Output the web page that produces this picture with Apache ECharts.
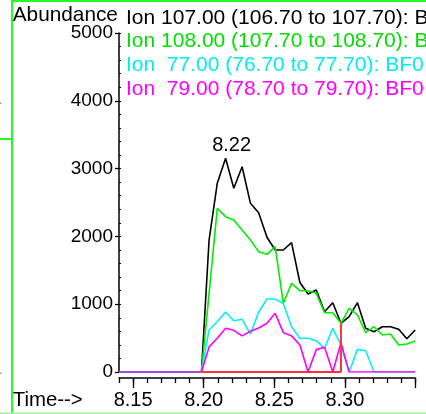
<!DOCTYPE html>
<html><head><meta charset="utf-8">
<script src="https://cdn.jsdelivr.net/npm/echarts@6/dist/echarts.min.js"></script>
<style>html,body{margin:0;padding:0;background:#fff;overflow:hidden}#c{width:426px;height:414px}</style>
</head><body><div id="c"></div>
<script>
// ---- data ----
const times = [8.1984, 8.2038, 8.2096, 8.2155, 8.2213, 8.2272, 8.2331, 8.2389, 8.2448, 8.2506, 8.2564, 8.2622, 8.2681, 8.2739, 8.2797, 8.2856, 8.2914, 8.2972, 8.3030, 8.3089, 8.3147, 8.3206, 8.3265, 8.3323, 8.3381, 8.3439, 8.3498];
const ion107 = [0,1947,2783,3152,2709,3028,2488,2350,1987,1799,1799,1907,1320,1150,1209,889,1022,718,816,1022,644,594,668,668,630,490,619];
const ion108 = [0,1160,2414,2291,2242,2094,1947,1775,1736,1848,1013,1308,1199,1199,1160,875,875,718,939,841,580,668,546,560,398,413,457];
const ion77  = [0,620,745,885,755,777,560,885,1077,1077,1008,668,497,497,462,350,644,398,0,334,314,0,0,0,0,0,0];
const ion79  = [0,370,497,644,615,533,600,650,718,866,580,533,398,0,330,364,0,432,0,0,0,0,0,0,0,0,0];
const redTimes  = [8.1984, 8.2038, 8.2096, 8.2155, 8.2213, 8.2272, 8.2331, 8.2389, 8.2448, 8.2506, 8.2564, 8.2622, 8.2681, 8.2739, 8.2797, 8.2856, 8.2914, 8.2972, 8.2972];
const redValues = [0,0,0,0,0,0,0,0,0,0,0,0,0,0,0,0,0,0,718];
const baseTimes  = [8.14, 8.1984];
const baseValues = [0, 0];
const xLabelValues = [8.15, 8.20, 8.25, 8.30];
const xMajorTicks  = [8.15, 8.20, 8.25, 8.30, 8.35];
const legendLabels = [
  'Ion 107.00 (106.70 to 107.70): BF0',
  'Ion 108.00 (107.70 to 108.70): BF0',
  'Ion  77.00 (76.70 to 77.70): BF0',
  'Ion  79.00 (78.70 to 79.70): BF0'
];
const legendColors = ['#000000', '#00dd00', '#00eeee', '#ff00ff'];
const peakLabel = '8.22';
const yTitle = 'Abundance';
const xTitle = 'Time-->';

// ---- chart ----
const FF = '"Liberation Sans", Arial, Helvetica, sans-serif';
const pairs = (ts, vs) => ts.map((t, i) => [t, vs[i]]);
let peakIdx = 0;
ion107.forEach((v, i) => { if (v > ion107[peakIdx]) peakIdx = i; });

function line(name, ts, vs, color, z, extra) {
  return Object.assign({
    type: 'line', name, data: pairs(ts, vs), showSymbol: false, symbol: 'none',
    lineStyle: { color, width: 1.6 }, itemStyle: { color }, z, silent: true,
    xAxisIndex: 0, yAxisIndex: 0
  }, extra || {});
}

const chart = echarts.init(document.getElementById('c'), null, { renderer: 'canvas' });
const graphics = [
  { type: 'rect', shape: { x: 11, y: 0, width: 2, height: 414 }, style: { fill: '#22ff22' } },
  { type: 'rect', shape: { x: 11, y: 0, width: 415, height: 2 }, style: { fill: '#22ff22' } },
  { type: 'rect', shape: { x: 0, y: 138, width: 12, height: 2 }, style: { fill: '#22ff22' } },
  { type: 'rect', shape: { x: 0, y: 412.5, width: 426, height: 1.5 }, style: { fill: '#a0f0a0' } },
  { type: 'rect', shape: { x: 0, y: 102.5, width: 1.5, height: 1.5 }, style: { fill: '#999' } },
  { type: 'rect', shape: { x: 0, y: 372.5, width: 1.5, height: 1.5 }, style: { fill: '#999' } },
  { type: 'text', x: 12.7, y: 15.3, style: { text: yTitle, font: '20.8px ' + FF, fill: '#000', align: 'left', verticalAlign: 'middle', textAlign: 'left', textVerticalAlign: 'middle' } },
  { type: 'text', x: 12.7, y: 400.5, style: { text: xTitle, font: '20.4px ' + FF, fill: '#000', align: 'left', verticalAlign: 'middle', textAlign: 'left', textVerticalAlign: 'middle' } }
];
legendLabels.forEach((t, i) => {
  graphics.push({ type: 'text', x: 126, y: 17.8 + i * 23.8, z: 10,
    style: { text: t, font: '21px ' + FF, fill: legendColors[i], align: 'left', verticalAlign: 'middle', textAlign: 'left', textVerticalAlign: 'middle' } });
});

const option = {
  animation: false,
  backgroundColor: '#ffffff',
  grid: { left: 119, top: 33, width: 296.5, height: 339, containLabel: false },
  xAxis: [
    { type: 'value', min: 8.14, max: 8.35, interval: 0.01, position: 'bottom', offset: 6,
      axisLine: { show: true, onZero: false, lineStyle: { color: '#000', width: 1.5 } },
      axisTick: { show: true, length: 5, lineStyle: { color: '#000', width: 1.3 } },
      axisLabel: { show: false }, splitLine: { show: false } },
    { type: 'value', min: 8.14, max: 8.35, position: 'bottom', offset: 6,
      axisLine: { show: false, onZero: false },
      axisTick: { show: true, length: 10, customValues: xMajorTicks, lineStyle: { color: '#000', width: 1.3 } },
      axisLabel: { show: true, customValues: xLabelValues, formatter: v => v.toFixed(2), fontSize: 20, fontFamily: FF, color: '#000', margin: 12 },
      splitLine: { show: false } }
  ],
  yAxis: [
    { type: 'value', min: 0, max: 5000, interval: 1000, position: 'left',
      axisLine: { show: true, onZero: false, lineStyle: { color: '#000', width: 1.5 } },
      axisTick: { show: true, length: 4, lineStyle: { color: '#000', width: 1.3 } },
      axisLabel: { fontSize: 19, fontFamily: FF, color: '#000', margin: 6, formatter: v => String(v) },
      splitLine: { show: false } },
    { type: 'value', min: 0, max: 5000, interval: 200, position: 'left',
      axisLine: { show: false, onZero: false },
      axisTick: { show: true, inside: true, length: 2, lineStyle: { color: '#000', width: 1 } },
      axisLabel: { show: false }, splitLine: { show: false } }
  ],
  series: [
    line('Ion 107.00', times, ion107, '#000000', 2, {
      markPoint: {
        symbol: 'circle', symbolSize: 2, silent: true,
        itemStyle: { color: 'rgba(0,0,0,0)' },
        label: { show: true, position: 'top', distance: 1.5, offset: [6, 0], formatter: peakLabel, fontSize: 20, fontFamily: FF, color: '#000' },
        data: [{ coord: [times[peakIdx], ion107[peakIdx]] }]
      }
    }),
    line('Ion 108.00', times, ion108, '#00ee00', 3),
    line('Ion 77.00', times, ion77, '#00f0ff', 4),
    line('Ion 79.00', times, ion79, '#ff00ff', 5),
    line('marker', redTimes, redValues, '#ff3333', 6, { lineStyle: { color: '#ff3333', width: 2 } }),
    line('baseline', baseTimes, baseValues, '#9b4fe0', 7, { lineStyle: { color: '#9b4fe0', width: 2 } })
  ],
  graphic: graphics
};
chart.setOption(option);
</script>
</body></html>
